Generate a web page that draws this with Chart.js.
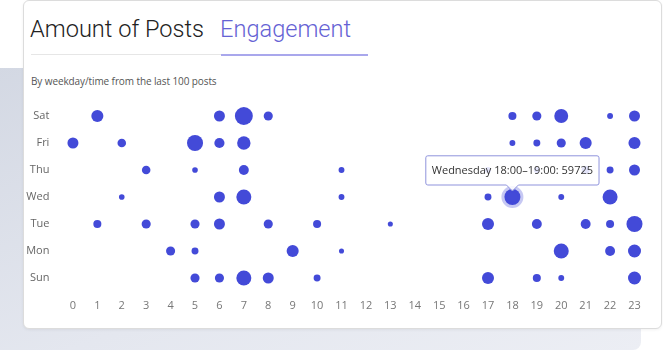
<!DOCTYPE html>
<html>
<head>
<meta charset="utf-8">
<script src="https://cdn.jsdelivr.net/npm/chart.js@4"></script>
<style>
  html, body { margin: 0; padding: 0; background: #fff; }
  body { width: 663px; height: 352px; position: relative; overflow: hidden; font-family: 'Open Sans', sans-serif; }
  .back {
    position: absolute; left: -10px; top: 68px; width: 651px; height: 282px;
    border-radius: 8px;
    background: linear-gradient(160deg, #d3d8e3 0%, #e4e7ef 60%, #eceef4 100%);
  }
  .card {
    position: absolute; left: 23px; top: 0; width: 637px; height: 327px;
    background: #fff; border: 1px solid #dcdcdc; border-radius: 6px;
    box-shadow: 0 1px 3px rgba(0,0,0,0.06);
  }
  .tabs { position: absolute; left: 6px; top: 14px; font-family: Roboto, sans-serif; font-weight: 300; font-size: 23.6px; }
  .tab { position: absolute; top: 0; white-space: nowrap; }
  .tab.a { left: 0; color: #222; }
  .tab.b { left: 190px; color: #6562d4; }
  .line1 { position: absolute; left: 7px; top: 53px; width: 190px; height: 1px; background: #e6e6e6; }
  .line2 { position: absolute; left: 197px; top: 53px; width: 147px; height: 2px; background: #a9a7ec; }
  .sub { position: absolute; left: 7px; top: 73px; font-size: 10px; letter-spacing: -0.1px; color: #555; white-space: nowrap; }
  canvas { position: absolute; left: 0; top: 0; }
</style>
</head>
<body>
<div class="back"></div>
<div class="card">
  <div class="tabs">
    <span class="tab a">Amount of Posts</span>
    <span class="tab b">Engagement</span>
  </div>
  <div class="line1"></div>
  <div class="line2"></div>
  <div class="sub">By weekday/time from the last 100 posts</div>
</div>
<canvas id="bubbleChart" width="663" height="352"></canvas>
<script>
// rows bottom to top
const days = ['Sun', 'Mon', 'Tue', 'Wed', 'Thu', 'Fri', 'Sat'];
const dayNames = ['Sunday', 'Monday', 'Tuesday', 'Wednesday', 'Thursday', 'Friday', 'Saturday'];
const hours = [0, 1, 2, 3, 4, 5, 6, 7, 8, 9, 10, 11, 12, 13, 14, 15, 16, 17, 18, 19, 20, 21, 22, 23];

// engagement per hour (null = no posts)
const sunValues = [null, null, null, null, null, 34000, 34000, 56000, 41000, null, 26000, null, null, null, null, null, null, 45000, null, 30000, 22000, null, null, 48500];
const monValues = [null, null, null, null, 34000, 26000, null, null, null, 45000, null, 19000, null, null, null, null, null, null, null, null, 56000, null, 37000, 48500];
const tueValues = [null, 30000, null, 34000, null, 34000, 41000, null, 34000, null, 30000, null, null, 19000, null, null, null, 45000, null, 37000, null, 37000, 30000, 60000];
const wedValues = [null, null, 21000, null, null, null, 41000, 56000, null, null, null, 22000, null, null, null, null, null, 26000, 59725, null, 22000, null, 56000, null];
const thuValues = [null, null, null, 32000, null, 21000, null, 37000, null, null, null, 22000, null, null, null, null, null, 22000, null, 22000, null, 30000, 26000, 41000];
const friValues = [41000, null, 32000, null, null, 60000, 38000, 50000, null, null, null, null, null, null, null, null, null, null, 22000, 26000, 34000, 45000, null, 45000];
const satValues = [null, 45000, null, null, null, null, 41000, 67000, 34000, null, null, null, null, null, null, null, null, null, 30000, 34000, 52000, null, 22000, 41000];

const rows = [sunValues, monValues, tueValues, wedValues, thuValues, friValues, satValues];
const valuePerPx = 7466;

const bubbles = [];
rows.forEach((vals, d) => {
    vals.forEach((v, h) => {
        if (v !== null) bubbles.push({ x: hours[h], y: d, r: v / valuePerPx, v: v });
    });
});

const pad = n => (n < 10 ? '0' : '') + n;

const ctx = document.getElementById('bubbleChart');
const chart = new Chart(ctx, {
    type: 'bubble',
    data: {
        datasets: [{
            data: bubbles,
            backgroundColor: '#434ad8',
            borderColor: '#434ad8',
            borderWidth: 0,
            hoverRadius: 0,
            hoverBackgroundColor: '#434ad8',
            hoverBorderWidth: 6,
            hoverBorderColor: 'rgba(67, 74, 216, 0.3)',
            clip: false
        }]
    },
    options: {
        responsive: false,
        animation: false,
        events: [],
        layout: {
            padding: { left: 23.4, right: 6.4, top: 99.8, bottom: 37.8 }
        },
        plugins: {
            legend: { display: false },
            tooltip: {
                backgroundColor: 'rgba(255, 255, 255, 0.85)',
                borderColor: '#8f93dc',
                borderWidth: 1,
                cornerRadius: 2,
                caretSize: 6,
                caretPadding: 6,
                displayColors: false,
                yAlign: 'bottom',
                xAlign: 'center',
                padding: { x: 6, y: 8 },
                bodyColor: '#333',
                bodyFont: { family: 'Open Sans', size: 11 },
                callbacks: {
                    title: () => '',
                    label: function (context) {
                        const p = context.raw;
                        return dayNames[p.y] + ' ' + pad(p.x) + ':00\u2013' + pad(p.x + 1) + ':00: ' + p.v;
                    }
                }
            }
        },
        scales: {
            x: {
                type: 'linear',
                min: -0.8,
                max: 23.8,
                afterFit: s => { s.height = 20; },
                afterBuildTicks: s => { s.ticks = hours.map(h => ({ value: h })); },
                grid: { display: false, drawTicks: false, tickLength: 0 },
                border: { display: false },
                ticks: {
                    color: '#777',
                    padding: 5,
                    font: { family: 'Open Sans', size: 11 },
                    callback: v => hours.includes(v) ? String(v) : ''
                }
            },
            y: {
                type: 'linear',
                min: -0.6,
                max: 6.6,
                afterFit: s => { s.width = 30; },
                afterBuildTicks: s => { s.ticks = days.map((d, i) => ({ value: i })); },
                grid: { display: false, drawTicks: false, tickLength: 0 },
                border: { display: false },
                ticks: {
                    color: '#666',
                    padding: 4,
                    font: { family: 'Open Sans', size: 11 },
                    callback: v => days[v] || ''
                }
            }
        }
    }
});

/* ---------------------------
   SHOW HOVERED POINT
---------------------------*/
const activeIdx = bubbles.findIndex(b => b.y === 3 && b.x === 18);
const active = [{ datasetIndex: 0, index: activeIdx }];
chart.setActiveElements(active);
const el = chart.getDatasetMeta(0).data[activeIdx];
chart.tooltip.setActiveElements(active, { x: el.x, y: el.y });
chart.update();
</script>
</body>
</html>
